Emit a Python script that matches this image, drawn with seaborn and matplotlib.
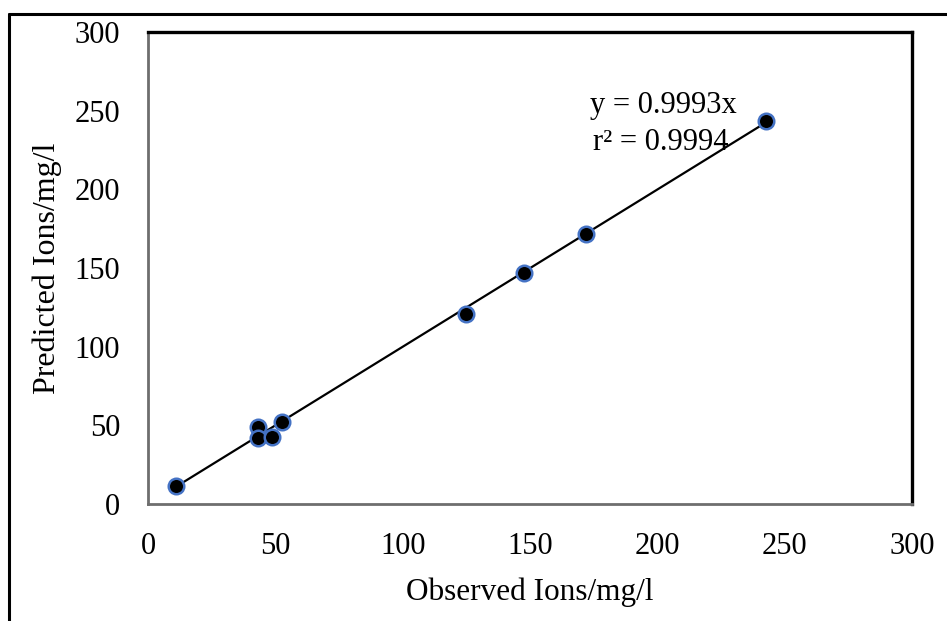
import matplotlib
matplotlib.use("Agg")
import matplotlib.pyplot as plt
from matplotlib.lines import Line2D
import numpy as np
import pandas as pd
import seaborn as sns

# values
observed = [11.0, 43.2, 43.2, 48.7, 52.6, 124.9, 147.6, 172.0, 242.6]
predicted = [11.4, 49.0, 42.0, 42.6, 52.1, 120.8, 146.9, 171.6, 243.5]
slope = 0.9993
r_squared = 0.9994
ticks = [0, 50, 100, 150, 200, 250, 300]

sns.set_style("white")
plt.rcParams["font.family"] = ["Liberation Serif", "DejaVu Serif"]
plt.rcParams.update({"text.color": "black", "axes.labelcolor": "black",
                     "xtick.color": "black", "ytick.color": "black"})

df = pd.DataFrame({"observed": observed, "predicted": predicted})
x_fit = np.array([min(observed), max(observed)])
fit = pd.DataFrame({"observed": x_fit, "predicted": slope * x_fit})

fig = plt.figure(figsize=(9.47, 6.21), dpi=100)
ax = fig.add_axes([0.1563, 0.1884, 0.8067, 0.7601])

sns.lineplot(data=fit, x="observed", y="predicted", color="black", linewidth=1.6, ax=ax)
sns.scatterplot(data=df, x="observed", y="predicted", color="black", edgecolor="#4472C4",
                linewidth=1.8, s=125, ax=ax, zorder=3)

ax.set_xlim(0, 300)
ax.set_ylim(0, 300)
ax.set_xticks(ticks)
ax.set_yticks(ticks)
ax.tick_params(length=0, labelsize=22, pad=20)
ax.set_xlabel("Observed Ions/mg/l", fontsize=22.5, labelpad=12)
ax.set_ylabel("Predicted Ions/mg/l", fontsize=23, labelpad=9)

for side in ["top", "right"]:
    ax.spines[side].set_color("black")
    ax.spines[side].set_linewidth(2.4)
for side in ["left", "bottom"]:
    ax.spines[side].set_color("#6e6e6e")
    ax.spines[side].set_linewidth(2.0)

ax.text(0.675, 0.845, f"y = {slope}x", transform=ax.transAxes, ha="center", va="center", fontsize=22)
ax.text(0.671, 0.765, f"r\u00b2 = {r_squared}", transform=ax.transAxes, ha="center", va="center", fontsize=22)

# outer frame of the chart area (runs off the right and bottom edges)
fig.add_artist(Line2D([0.0095, 0.0095], [0.978, -0.05], transform=fig.transFigure, color="black", linewidth=2.2))
fig.add_artist(Line2D([0.0095, 1.05], [0.978, 0.978], transform=fig.transFigure, color="black", linewidth=2.2))

fig.savefig("out.png", dpi=100)
